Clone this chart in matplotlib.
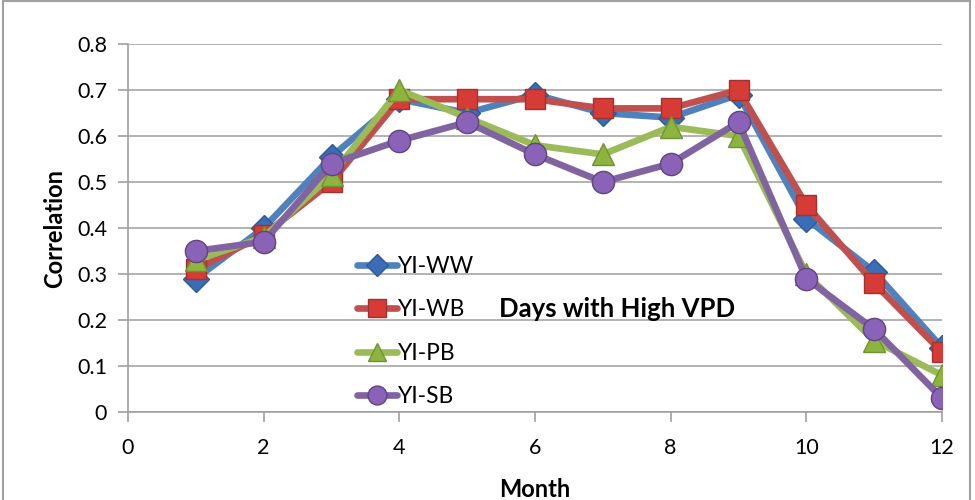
import matplotlib
matplotlib.use("Agg")
import matplotlib.pyplot as plt
from matplotlib.patches import Rectangle

months = [1, 2, 3, 4, 5, 6, 7, 8, 9, 10, 11, 12]
yi_ww = [0.29, 0.40, 0.555, 0.68, 0.65, 0.69, 0.65, 0.64, 0.69, 0.42, 0.305, 0.14]
yi_wb = [0.31, 0.385, 0.50, 0.68, 0.68, 0.68, 0.66, 0.66, 0.70, 0.45, 0.28, 0.13]
yi_pb = [0.33, 0.38, 0.515, 0.70, 0.64, 0.58, 0.56, 0.62, 0.60, 0.30, 0.155, 0.08]
yi_sb = [0.35, 0.37, 0.54, 0.59, 0.63, 0.56, 0.50, 0.54, 0.63, 0.29, 0.18, 0.03]
series_names = ["YI-WW", "YI-WB", "YI-PB", "YI-SB"]
x_ticks = [0, 2, 4, 6, 8, 10, 12]
y_ticks = [0, 0.1, 0.2, 0.3, 0.4, 0.5, 0.6, 0.7, 0.8]

plt.rcParams['font.family'] = ['Lato', 'DejaVu Sans']

fig = plt.figure(figsize=(9.75, 5), dpi=100)
fig.patches.append(Rectangle((0.003, -0.01), 0.992, 1.008, transform=fig.transFigure,
                             fill=False, edgecolor='#a0a0a0', linewidth=1.5))
ax = fig.add_axes([128/975, 88/500, 814/975, 368/500])

styles = [
    (yi_ww, '#4F81BD', 'D', '#3A6DB5', '#2F5A95', 13),
    (yi_wb, '#C0504D', 's', '#D63B36', '#A03330', 15),
    (yi_pb, '#9BBB59', '^', '#8CB43E', '#6F9330', 16),
    (yi_sb, '#8064A2', 'o', '#8A62B8', '#5E4580', 16),
]
for (vals, col, mk, fc, ec, ms), name in zip(styles, series_names):
    ax.plot(months, vals, color=col, linewidth=4.8, marker=mk, markersize=ms,
            markerfacecolor=fc, markeredgecolor=ec, markeredgewidth=1.0,
            label=name, solid_joinstyle='round', solid_capstyle='round')

ax.set_xlim(0, 12)
ax.set_ylim(0, 0.8)
ax.set_xticks(x_ticks)
ax.set_yticks(y_ticks)
ax.set_yticklabels(['0' if v == 0 else f'{v:.1f}' for v in y_ticks])
ax.grid(axis='y', color='#a6a6a6', linewidth=1.2)
ax.set_axisbelow(True)
for s in ['top', 'right']:
    ax.spines[s].set_visible(False)
for s in ['left', 'bottom']:
    ax.spines[s].set_color('#a0a0a0')
    ax.spines[s].set_linewidth(1.2)
ax.tick_params(axis='both', colors='#a0a0a0', length=7, width=1.2, labelsize=15.5,
               labelcolor='black', direction='out')
ax.tick_params(axis='x', pad=12)
ax.tick_params(axis='y', pad=8)

ax.set_xlabel('Month', fontsize=17, fontweight='bold', labelpad=14)
ax.set_ylabel('Correlation', fontsize=17, fontweight='bold', labelpad=8)

leg = ax.legend(loc='upper left', bbox_to_anchor=(0.27, 0.45), frameon=False,
                fontsize=16.4, handlelength=1.75, handletextpad=0.05,
                labelspacing=0.99, borderaxespad=0)
for h in leg.legend_handles:
    h.set_markersize(h.get_markersize() * 0.85)

ax.text(0.601, 0.28, 'Days with High VPD', transform=ax.transAxes, fontsize=18.5,
        fontweight='bold', ha='center', va='center')

fig.savefig('out.png', dpi=100)
